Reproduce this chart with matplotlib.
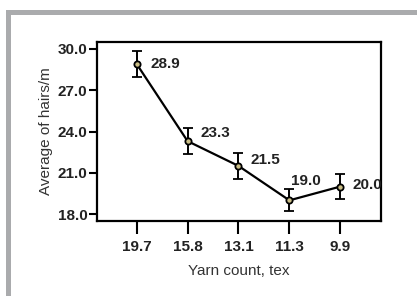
import matplotlib
matplotlib.use("Agg")
import matplotlib.pyplot as plt
from matplotlib.patches import Rectangle

categories = ["19.7", "15.8", "13.1", "11.3", "9.9"]
means = [28.9, 23.3, 21.5, 19.0, 20.0]
errors = [0.95, 0.97, 0.95, 0.8, 0.93]
value_labels = ["28.9", "23.3", "21.5", "19.0", "20.0"]
yticks = [18.0, 21.0, 24.0, 27.0, 30.0]

label_offsets = [(10, 0), (9, 6), (9, 4), (1, 14), (9, 1)]

W, H = 417, 296
fig = plt.figure(figsize=(W / 100, H / 100), dpi=100)

# gray frame
fig.patches.append(Rectangle((6 / W, 1 - 15 / H), 1 - 6 / W, 5 / H, transform=fig.transFigure,
                             facecolor="#aaabad", edgecolor="none"))
fig.patches.append(Rectangle((6 / W, 0), 5 / W, 1 - 10 / H, transform=fig.transFigure,
                             facecolor="#aaabad", edgecolor="none"))

ax = fig.add_axes([97 / W, 1 - 221 / H, (381 - 97) / W, (221 - 42) / H])
x = list(range(len(categories)))
ax.errorbar(x, means, yerr=errors, color="black", lw=1.6, capsize=3.5, capthick=1.4,
            elinewidth=1.4, marker="o", markersize=4.5, markerfacecolor="#c9bd86",
            markeredgecolor="black", markeredgewidth=1.3, zorder=3)

fam = ["Liberation Sans", "DejaVu Sans"]
for xi, yi, lab, off in zip(x, means, value_labels, label_offsets):
    ax.annotate(lab, (xi, yi), xytext=off, textcoords="offset points", ha="left",
                va="center", fontsize=11, fontweight="bold", family=fam, color="#222222")

ax.set_xlim(-0.78, 4.8)
ax.set_ylim(17.5, 30.5)
ax.set_xticks(x)
ax.set_xticklabels(categories, fontsize=11, fontweight="bold", family=fam, color="#222222")
ax.set_yticks(yticks)
ax.set_yticklabels([f"{v:.1f}" for v in yticks], fontsize=11, fontweight="bold",
                   family=fam, color="#222222")
ax.tick_params(axis="x", length=9, width=1.5, pad=5)
ax.tick_params(axis="y", length=6, width=1.5, pad=1)
for s in ax.spines.values():
    s.set_linewidth(1.6)

ax.set_ylabel("Average of hairs/m", fontsize=11, family=fam, color="#333333", labelpad=3)
ax.set_xlabel("Yarn count, tex", fontsize=11, family=fam, color="#333333", labelpad=7)

fig.savefig("out.png", dpi=100)
